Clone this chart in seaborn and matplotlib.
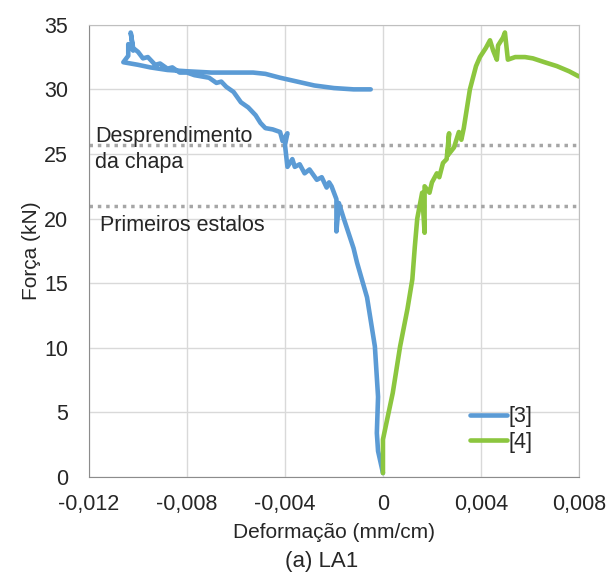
import numpy as np
import pandas as pd
import matplotlib
matplotlib.use("Agg")
import matplotlib.pyplot as plt
import seaborn as sns

# curva [3] (lado comprimido)
def3 = [0.0000, -0.0002, -0.00025, -0.0002, -0.00033, -0.00065, -0.00106, -0.0012, -0.0016, -0.0018,
        -0.0019, -0.0019, -0.0020, -0.0021, -0.0022, -0.0023, -0.0025, -0.0027, -0.0030, -0.0032,
        -0.0034, -0.0036, -0.0037, -0.0039, -0.0040, -0.0039, -0.0041, -0.0042, -0.0045, -0.0048,
        -0.0050, -0.0052, -0.0055, -0.0058, -0.0061, -0.0064, -0.0066, -0.0068, -0.0071, -0.0074,
        -0.0077, -0.0080, -0.0083, -0.0086, -0.0088, -0.0091, -0.0093, -0.0096, -0.0098, -0.0100,
        -0.0102, -0.0103, -0.0102, -0.0104, -0.0104, -0.0106, -0.0100, -0.0095, -0.0088, -0.0080,
        -0.0070, -0.0060, -0.0053, -0.0048, -0.0042, -0.0035, -0.0028, -0.0020, -0.0012, -0.0005]
forca3 = [0.3, 2.0, 3.4, 6.2, 10.1, 13.9, 16.6, 17.7, 20.0, 21.2,
          19.0, 21.5, 22.0, 22.5, 22.8, 22.4, 23.2, 23.0, 23.8, 23.5,
          24.2, 24.0, 24.6, 24.0, 25.7, 26.6, 26.0, 26.7, 26.9, 27.0,
          27.4, 28.0, 28.6, 29.0, 29.8, 30.2, 30.6, 30.5, 30.9, 31.0,
          31.1, 31.3, 31.3, 31.7, 31.6, 32.0, 31.9, 32.5, 32.4, 32.9,
          33.2, 34.4, 33.0, 33.5, 32.6, 32.1, 31.9, 31.7, 31.5, 31.4,
          31.3, 31.3, 31.3, 31.2, 30.9, 30.6, 30.3, 30.1, 30.0, 30.0]

# curva [4] (lado tracionado)
def4 = [0.0000, 0.0000, 0.0004, 0.0007, 0.0010, 0.0012, 0.0013, 0.0014, 0.0016, 0.0017,
        0.0017, 0.0019, 0.0020, 0.0022, 0.0023, 0.00245, 0.0026, 0.0027, 0.00265, 0.0029,
        0.0031, 0.0032, 0.0033, 0.00355, 0.0038, 0.00396, 0.0042, 0.00437, 0.0045, 0.00465,
        0.0047, 0.0049, 0.00498, 0.0051, 0.0054, 0.0058, 0.00612, 0.0066, 0.0071, 0.0076, 0.0080]
forca4 = [0.3, 2.9, 6.5, 10.1, 13.0, 15.3, 17.8, 20.0, 22.0, 18.9,
          22.5, 22.0, 22.8, 23.5, 23.2, 24.3, 24.6, 26.6, 24.9, 25.5,
          26.7, 26.1, 27.0, 30.0, 31.8, 32.5, 33.2, 33.8, 33.0, 32.3,
          33.4, 34.0, 34.4, 32.3, 32.5, 32.5, 32.4, 32.1, 31.8, 31.4, 31.0]

limites = [25.7, 21.0]
xticks = [-0.012, -0.008, -0.004, 0.0, 0.004, 0.008]
yticks = [0, 5, 10, 15, 20, 25, 30, 35]

df = pd.concat([
    pd.DataFrame({"def": def3, "forca": forca3, "serie": "[3]", "ordem": range(len(def3))}),
    pd.DataFrame({"def": def4, "forca": forca4, "serie": "[4]", "ordem": range(len(def4))}),
])

sns.set_style("white")
plt.rcParams["font.family"] = ["Liberation Sans", "DejaVu Sans"]

fig = plt.figure(figsize=(6.1, 5.76), dpi=100)
ax = fig.add_axes([0.146, 0.172, 0.803, 0.785])

for y in limites:
    ax.axhline(y, color="#a6a6a6", lw=2.5, ls=(0, (1, 1.4)), zorder=1)

sns.lineplot(data=df, x="def", y="forca", hue="serie", sort=False, estimator=None,
             palette={"[3]": "#5b9bd5", "[4]": "#8cc63f"}, lw=3.3, ax=ax, zorder=3)

ax.set_xlim(-0.012, 0.008)
ax.set_ylim(0, 35)
ax.set_xticks(xticks)
ax.set_yticks(yticks)
ax.set_xticklabels([f"{v:.3f}".replace(".", ",") if v != 0 else "0" for v in xticks])
ax.set_yticklabels([str(v) for v in yticks])
ax.tick_params(axis="both", length=0, labelsize=15.5, colors="#262626")
ax.tick_params(axis="y", pad=15)
ax.tick_params(axis="x", pad=12)
ax.grid(True, color="#d9d9d9", lw=1)
for s in ax.spines.values():
    s.set_color("#bfbfbf")
ax.spines["left"].set_color("#8c8c8c")
ax.spines["bottom"].set_color("#8c8c8c")

ax.set_xlabel("Deformação (mm/cm)", fontsize=15, color="#262626", labelpad=6)
ax.set_ylabel("Força (kN)", fontsize=15, color="#262626", labelpad=2)
fig.text(0.528, 0.025, "(a) LA1", fontsize=16, ha="center", va="center")

ax.text(-0.01176, 25.9, "Desprendimento", fontsize=15.5, va="baseline", ha="left")
ax.text(-0.01176, 23.9, "da chapa", fontsize=15.5, va="baseline", ha="left")
ax.text(-0.01155, 19.05, "Primeiros estalos", fontsize=15.5, va="baseline", ha="left")

ax.legend(loc="upper left", bbox_to_anchor=(0.76, 0.175), frameon=False, fontsize=15.5,
          handlelength=1.7, handletextpad=0.1, labelspacing=0.2, borderaxespad=0)

fig.savefig("out.png", dpi=100)
